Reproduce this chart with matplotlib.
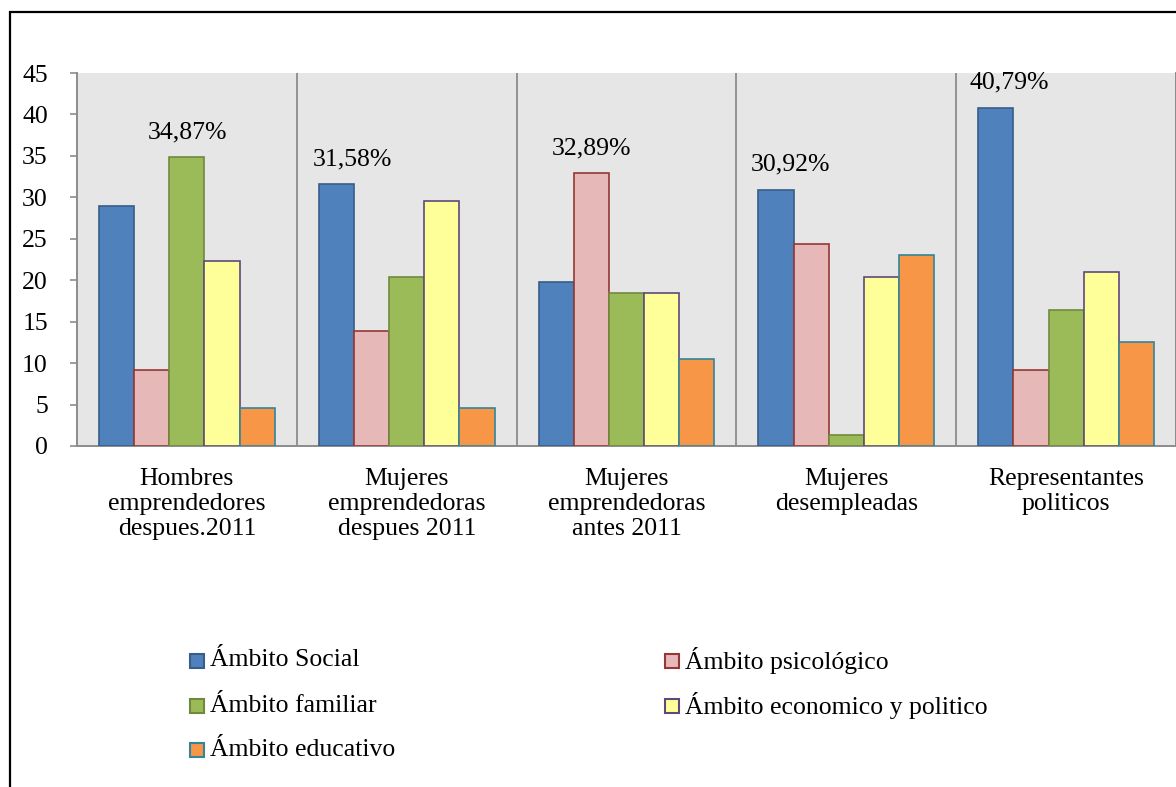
import matplotlib.pyplot as plt
import matplotlib.patches as mpatches
import numpy as np

plt.rcParams['font.family'] = ['Liberation Serif', 'DejaVu Serif']

# Data: share of responses (%) per group and dimension
groups = ['Hombres\nemprendedores\ndespues.2011',
          'Mujeres\nemprendedoras\ndespues 2011',
          'Mujeres\nemprendedoras\nantes 2011',
          'Mujeres\ndesempleadas',
          'Representantes\npoliticos']
series_names = ['Ámbito Social', 'Ámbito psicológico', 'Ámbito familiar',
                'Ámbito economico y politico', 'Ámbito educativo']
social = [28.95, 31.58, 19.74, 30.92, 40.79]
psicologico = [9.21, 13.82, 32.89, 24.34, 9.21]
familiar = [34.87, 20.39, 18.42, 1.32, 16.45]
economico = [22.37, 29.61, 18.42, 20.39, 21.05]
educativo = [4.61, 4.61, 10.53, 23.03, 12.50]
yticks = [0, 5, 10, 15, 20, 25, 30, 35, 40, 45]

# Styling
fills = ['#4F81BD', '#E6B9B8', '#9BBB59', '#FFFF99', '#F79646']
edges = ['#385D8A', '#953735', '#71893F', '#5F497A', '#31859C']
fs = 18.5
label_dx = [1, 16, 0, 15, 13]   # horizontal nudge of value labels, px

W, H = 1176, 787
fig = plt.figure(figsize=(W / 100, H / 100), dpi=100)
ax = fig.add_axes([77 / W, 1 - 446 / H, 1099 / W, 373 / H])
ax.set_facecolor('#E6E6E6')

values = np.array([social, psicologico, familiar, economico, educativo])
x = np.arange(len(groups))
w = 0.16
for i, vals in enumerate(values):
    ax.bar(x + (i - 2) * w, vals, width=w, color=fills[i],
           edgecolor=edges[i], linewidth=1.2, zorder=3)

# value label over the tallest bar of every group
for g in range(len(groups)):
    k = int(np.argmax(values[:, g]))
    v = values[k, g]
    ax.annotate(f"{v:.2f}".replace('.', ',') + '%',
                xy=(x[g] + (k - 2) * w, v),
                xytext=(label_dx[g] * 0.72, 18), textcoords='offset points',
                ha='center', va='center', fontsize=fs, zorder=5)

# group separators
for xs in np.arange(0.5, len(groups), 1.0):
    ax.axvline(xs, color='#8C8C8C', lw=1.3, zorder=2)

ax.set_xlim(-0.5, len(groups) - 0.5)
ax.set_ylim(0, 45)
ax.set_yticks(yticks)
ax.set_yticklabels([str(t) for t in yticks], fontsize=fs)
ax.set_xticks(x)
ax.set_xticklabels(groups, fontsize=fs, linespacing=1.17)
ax.tick_params(axis='y', length=5, width=1.2, color='#8C8C8C', pad=16)
ax.tick_params(axis='x', length=0, pad=16)
for s in ['left', 'bottom', 'right']:
    ax.spines[s].set_color('#8C8C8C')
    ax.spines[s].set_linewidth(1.4)
ax.spines['top'].set_visible(False)

# legend: two columns, filled row by row
leg_cols = [190, 665]
leg_rows = [661, 706, 750]
for i, name in enumerate(series_names):
    cx = leg_cols[i % 2]
    cy = leg_rows[i // 2]
    fig.patches.append(mpatches.Rectangle((cx / W, 1 - (cy + 7) / H), 14 / W, 14 / H,
                                          transform=fig.transFigure,
                                          facecolor=fills[i], edgecolor=edges[i],
                                          linewidth=1.5))
    fig.text((cx + 20) / W, 1 - (cy - 3) / H, name, fontsize=fs,
             ha='left', va='center_baseline')

# outer chart border
fig.patches.append(mpatches.Rectangle((10 / W, -0.1), 1.2, 1.1 - 12 / H,
                                      transform=fig.transFigure, fill=False,
                                      edgecolor='black', linewidth=1.6))

fig.savefig('out.png', dpi=100)
